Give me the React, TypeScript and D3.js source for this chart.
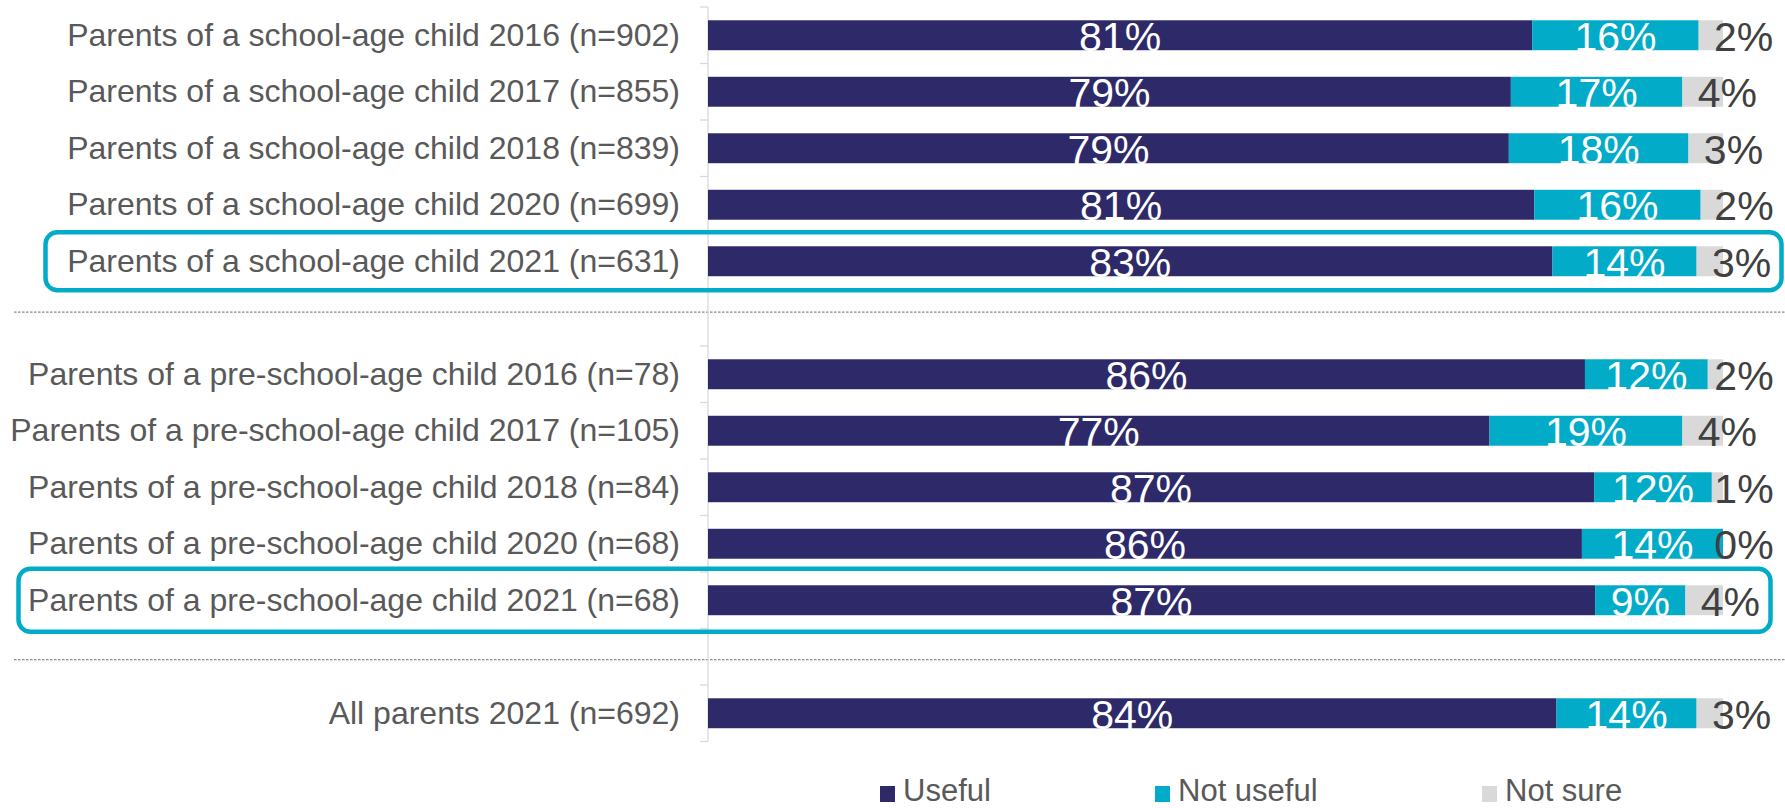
import React from "react";
import * as d3 from "d3";

const categories = [
  "Parents of a school-age child 2016 (n=902)",
  "Parents of a school-age child 2017 (n=855)",
  "Parents of a school-age child 2018 (n=839)",
  "Parents of a school-age child 2020 (n=699)",
  "Parents of a school-age child 2021 (n=631)",
  "Parents of a pre-school-age child 2016 (n=78)",
  "Parents of a pre-school-age child 2017 (n=105)",
  "Parents of a pre-school-age child 2018 (n=84)",
  "Parents of a pre-school-age child 2020 (n=68)",
  "Parents of a pre-school-age child 2021 (n=68)",
  "All parents 2021 (n=692)",
];
const useful = [81.2, 79.1, 78.9, 81.4, 83.2, 86.4, 77.0, 87.3, 86.1, 87.4, 83.6];
const notUseful = [16.4, 16.9, 17.7, 16.4, 14.2, 12.1, 19.0, 11.6, 13.9, 8.9, 13.8];
const notSure = [2.4, 4.0, 3.4, 2.2, 2.6, 1.5, 4.0, 1.1, 0.0, 3.7, 2.6];
const seriesNames = ["Useful", "Not useful", "Not sure"];
const highlighted = [
  "Parents of a school-age child 2021 (n=631)",
  "Parents of a pre-school-age child 2021 (n=68)",
];
// slot order including blank separator slots
const slots = [
  categories[0], categories[1], categories[2], categories[3], categories[4],
  "__gap1",
  categories[5], categories[6], categories[7], categories[8], categories[9],
  "__gap2",
  categories[10],
];

const COLORS = ["#2E2A6A", "#02ABC8", "#D9D9D9"];
const W = 1785;
const H = 808;
const FONT = "'Liberation Sans', Arial, Helvetica, sans-serif";

export default function App() {
  const x = d3.scaleLinear().domain([0, 100]).range([708, 1723]);
  const y = d3
    .scaleBand<string>()
    .domain(slots)
    .range([7, 741.5])
    .paddingInner(0.47)
    .paddingOuter(0.235);
  const step = y.step();
  const bw = y.bandwidth();
  const rows = categories.map((c, i) => ({
    cat: c,
    vals: [useful[i], notUseful[i], notSure[i]],
  }));
  const stacked = d3
    .stack<any>()
    .keys(["0", "1", "2"])
    .value((d, k) => d.vals[+k])(rows);

  const bandTop = (s: string) => (y(s) as number) - step * 0.235;
  const center = (s: string) => (y(s) as number) + bw / 2;
  const ticks = d3.range(slots.length + 1).map((i) => 7 + i * step);

  const legendX = [880, 1155, 1482];

  return (
    <svg
      width={W}
      height={H}
      style={{ position: "absolute", left: 0, top: 0, background: "#fff" }}
      fontFamily={FONT}
    >
      {/* separators */}
      {["__gap1", "__gap2"].map((g, i) => (
        <line
          key={g}
          x1={14}
          x2={W}
          y1={bandTop(g) + step * (i === 0 ? 0.4 : 0.55)}
          y2={bandTop(g) + step * (i === 0 ? 0.4 : 0.55)}
          stroke="#8C8C8C"
          strokeWidth={1.4}
          strokeDasharray="2.5,1.5"
        />
      ))}
      {/* axis */}
      <line x1={x(0)} x2={x(0)} y1={7} y2={741.5} stroke="#D9D9D9" strokeWidth={1.3} />
      {ticks.map((t, i) => (
        <line key={i} x1={x(0) - 8} x2={x(0)} y1={t} y2={t} stroke="#D9D9D9" strokeWidth={1.3} />
      ))}
      {/* bars */}
      {stacked.map((layer, si) =>
        layer.map((d, ri) => (
          <rect
            key={`${si}-${ri}`}
            x={x(d[0])}
            y={y(rows[ri].cat)}
            width={Math.max(0, x(d[1]) - x(d[0]))}
            height={bw}
            fill={COLORS[si]}
          />
        ))
      )}
      {/* category labels */}
      {categories.map((c) => (
        <text
          key={c}
          x={680}
          y={center(c)}
          dy={10.5}
          textAnchor="end"
          fontSize={32}
          fill="#595959"
        >
          {c}
        </text>
      ))}
      {/* value labels */}
      {stacked.map((layer, si) =>
        layer.map((d, ri) => {
          const v = rows[ri].vals[si];
          const label = `${Math.round(v)}%`;
          const cx =
            si < 2
              ? (x(d[0]) + x(d[1])) / 2
              : Math.min(x(d[0]) + 45, x(100) + 21);
          return (
            <text
              key={`l${si}-${ri}`}
              x={cx}
              y={center(rows[ri].cat)}
              dy={15.5}
              textAnchor="middle"
              fontSize={41}
              fill={si < 2 ? "#FFFFFF" : "#404040"}
            >
              {label}
            </text>
          );
        })
      )}
      {/* highlight boxes */}
      {highlighted.map((c, i) => (
        <rect
          key={c}
          x={i === 0 ? 45.5 : 18.5}
          width={i === 0 ? 1736 : 1752}
          y={center(c) - (i === 0 ? 29 : 31.5)}
          height={i === 0 ? 58 : 63}
          rx={12}
          fill="none"
          stroke="#02ABC8"
          strokeWidth={4.5}
        />
      ))}
      {/* legend */}
      {seriesNames.map((n, i) => (
        <g key={n}>
          <rect x={legendX[i]} y={786} width={15} height={16} fill={COLORS[i]} />
          <text x={legendX[i] + 23} y={801} fontSize={31} fill="#595959">
            {n}
          </text>
        </g>
      ))}
    </svg>
  );
}
